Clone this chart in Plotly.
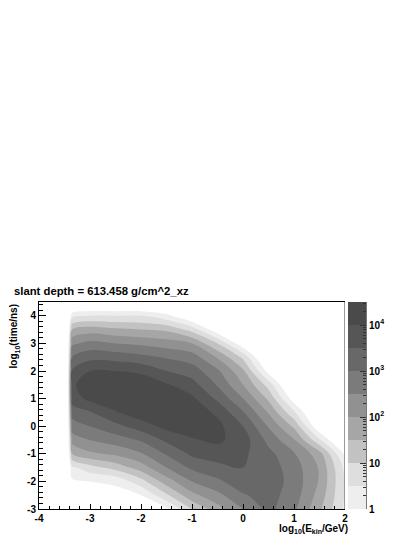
import numpy as np
import plotly.graph_objects as go

# bin centres: log10(E_kin/GeV) columns and log10(time/ns) rows
log_ekin = [-4.0, -3.5, -3.45, -3.35, -3.0, -2.5, -2.0, -1.5, -1.0, -0.5, 0.0, 0.5, 1.0, 1.5, 2.0]
log_time = [-3.0, -2.5, -2.0, -1.5, -1.0, -0.5, 0.0, 0.5, 1.0, 1.5, 2.0, 2.5, 3.0, 3.5, 4.0, 4.5]

# log10(entries) per energy column, time from -3 (first) to 4.5 (last); -1 means empty
col_m400 = [-1] * 16
col_m350 = [-1] * 16
col_m345 = [-1] * 16
col_m335 = [-0.3, -0.2, -0.1, 0.4, 1.5, 2.2, 2.75, 3.2, 3.75, 3.9, 3.6, 3.0, 2.4, 1.5, 0.3, -1]
col_m300 = [-0.3, -0.1, 0.0, 0.8, 1.9, 2.5, 3.0, 3.45, 4.15, 4.35, 4.0, 3.35, 2.65, 1.75, 0.5, -1]
col_m250 = [-0.3, -0.2, 0.1, 1.2, 2.1, 2.75, 3.35, 3.95, 4.35, 4.4, 4.0, 3.3, 2.5, 1.6, 0.5, -1]
col_m200 = [-0.3, 0.0, 0.8, 1.75, 2.45, 3.05, 3.75, 4.3, 4.45, 4.35, 3.9, 3.15, 2.4, 1.5, 0.5, -1]
col_m150 = [-0.1, 0.9, 1.75, 2.5, 3.05, 3.6, 4.15, 4.4, 4.3, 4.05, 3.5, 2.95, 2.25, 1.4, 0.15, -1]
col_m100 = [1.0, 1.85, 2.5, 3.1, 3.6, 3.95, 4.25, 4.3, 4.1, 3.7, 3.25, 2.75, 2.0, 0.8, -0.6, -1]
col_m050 = [1.8, 2.35, 2.9, 3.35, 3.75, 4.1, 4.15, 3.9, 3.4, 2.95, 2.6, 1.95, 1.0, -0.4, -1, -1]
col_p000 = [2.5, 2.95, 3.3, 3.5, 3.6, 3.75, 3.5, 3.05, 2.5, 2.0, 1.6, 0.9, -0.4, -1, -1, -1]
col_p050 = [3.15, 3.2, 3.3, 3.25, 3.15, 2.85, 2.45, 1.95, 1.4, 0.8, -0.2, -1, -1, -1, -1, -1]
col_p100 = [2.6, 2.75, 2.8, 2.75, 2.55, 2.05, 1.4, 0.6, -0.3, -1, -1, -1, -1, -1, -1, -1]
col_p150 = [1.6, 1.8, 1.95, 1.95, 1.7, 0.6, -0.5, -1, -1, -1, -1, -1, -1, -1, -1, -1]
col_p200 = [0.4, 0.45, 0.45, 0.35, -0.1, -1, -1, -1, -1, -1, -1, -1, -1, -1, -1, -1]

columns = [col_m400, col_m350, col_m345, col_m335, col_m300, col_m250, col_m200, col_m150,
           col_m100, col_m050, col_p000, col_p050, col_p100, col_p150, col_p200]

# contour levels in log10(entries) and palette (white = below 1 entry)
level_start, level_end, level_step = 0.0, 4.0, 0.5
greys = ["#ffffff", "#eeeeee", "#dedede", "#c2c2c2", "#a6a6a6",
         "#919191", "#7b7b7b", "#686868", "#565656", "#4a4a4a"]

x_ticks = [-4, -3, -2, -1, 0, 1, 2]
y_ticks = [-3, -2, -1, 0, 1, 2, 3, 4]
z_ticks = [0, 1, 2, 3, 4]
z_ticktext = ["1", "10", "10<sup>2</sup>", "10<sup>3</sup>", "10<sup>4</sup>"]

z = np.array(columns).T

# step colorscale: colour k sits at k/(n-1)
n = len(greys)
scale = []
for k, c in enumerate(greys):
    lo = max(0.0, (k - 0.5) / (n - 1))
    hi = min(1.0, (k + 0.5) / (n - 1))
    scale.append([lo, c])
    scale.append([hi, c])

font = dict(family="Liberation Sans, Arial, sans-serif", color="black", weight="bold")

fig = go.Figure()

fig.add_trace(go.Contour(
    x=log_ekin, y=log_time, z=z,
    colorscale=scale,
    autocontour=False,
    contours=dict(start=level_start, end=level_end, size=level_step,
                  coloring="fill", showlines=False),
    line=dict(width=0),
    showscale=False,
    hoverinfo="skip",
))

# palette drawn as its own little heatmap
band_centres = [level_start + level_step * (i + 0.5) for i in range(n - 1)]
fig.add_trace(go.Heatmap(
    x=[0], y=band_centres, z=[[b] for b in band_centres],
    colorscale=scale, zmin=level_start - level_step / 2,
    zmax=band_centres[-1],
    showscale=False, hoverinfo="skip",
    xaxis="x2", yaxis="y2",
))

minor_z = [np.log10(m) + d for d in range(0, 5) for m in range(2, 10)
           if np.log10(m) + d <= 4.5]

fig.add_shape(type="line", xref="x", yref="y", x0=2, x1=2, y0=-3, y1=4.5,
              line=dict(color="#999999", width=2), layer="above")

fig.add_annotation(text="slant depth = 613.458 g/cm^2_xz", xref="paper", yref="paper",
                   x=-0.083, y=1.053, xanchor="left", yanchor="middle",
                   showarrow=False, font=dict(font, size=11.3))
fig.add_annotation(text="log<sub>10</sub>(time/ns)", xref="paper", yref="paper",
                   x=-0.075, y=1.0, xanchor="center", yanchor="top", textangle=-90,
                   showarrow=False, font=dict(font, size=10))
fig.add_annotation(text="log<sub>10</sub>(E<sub>kin</sub>/GeV)", xref="paper", yref="paper",
                   x=0.951, y=-0.097, xanchor="right", yanchor="middle",
                   showarrow=False, font=dict(font, size=10))

# the page adds an 8 px body margin, so the figure is 8 px smaller and shifted
fig.update_layout(
    width=407, height=529,
    margin=dict(l=31, r=49, t=294, b=28),
    paper_bgcolor="white", plot_bgcolor="white",
    showlegend=False, hovermode=False,
    font=font,
    xaxis=dict(
        domain=[0, 0.9358], range=[-4, 2],
        tickmode="array", tickvals=x_ticks, ticktext=[str(v) for v in x_ticks],
        ticks="inside", ticklen=5, tickcolor="black",
        minor=dict(tick0=-4, dtick=0.2, ticks="inside", ticklen=3, tickcolor="black"),
        showline=True, linecolor="black", linewidth=1, mirror=True,
        showgrid=False, zeroline=False, tickfont=dict(font, size=10),
    ),
    yaxis=dict(
        range=[-3, 4.5],
        tickmode="array", tickvals=y_ticks, ticktext=[str(v) for v in y_ticks],
        ticks="inside", ticklen=7, tickcolor="black",
        minor=dict(tick0=-3, dtick=0.2, ticks="inside", ticklen=4, tickcolor="black"),
        showline=True, linecolor="black", linewidth=1,
        showgrid=False, zeroline=False, tickfont=dict(font, size=10),
    ),
    xaxis2=dict(domain=[0.945, 1.0], anchor="y2", visible=False, range=[-0.5, 0.5]),
    yaxis2=dict(
        domain=[0, 1], anchor="x2", side="right", range=[0, 4.5],
        tickmode="array", tickvals=z_ticks, ticktext=z_ticktext,
        ticks="inside", ticklen=6, tickcolor="#333333",
        minor=dict(tickmode="array", tickvals=minor_z, ticks="inside",
                   ticklen=3, tickcolor="#333333"),
        showline=True, linecolor="#777777", linewidth=1,
        showgrid=False, zeroline=False, tickfont=dict(font, size=10),
    ),
)

fig.write_html("out.html")
